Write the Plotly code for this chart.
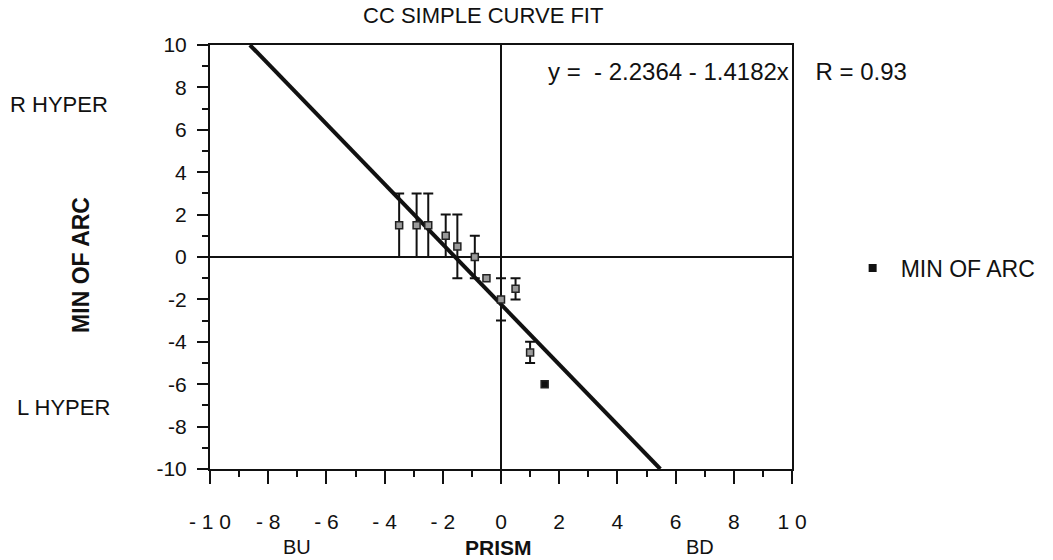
import plotly.graph_objects as go

# Measured points (prism vs. minutes of arc); None = no error bar recorded
prism = [-3.5, -2.9, -2.5, -1.9, -1.5, -0.9, -0.5, 0.0, 0.5, 1.0, 1.5]
min_of_arc = [1.5, 1.5, 1.5, 1.0, 0.5, 0.0, -1.0, -2.0, -1.5, -4.5, -6.0]
error = [1.5, 1.5, 1.5, 1.0, 1.5, 1.0, None, 1.0, 0.5, 0.5, None]

# Linear fit y = a + b x
fit_intercept = -2.2364
fit_slope = -1.4182
fit_r = 0.93

axis_min, axis_max = -10, 10
x_tickvals = list(range(-10, 11, 2))
x_ticktext = ["- 1 0", "- 8", "- 6", "- 4", "- 2", "0", "2", "4", "6", "8", "1 0"]
y_tickvals = list(range(-10, 11, 2))
y_ticktext = [str(v) for v in y_tickvals]

FONT = "Liberation Sans, Arial, Helvetica, sans-serif"
INK = "#111111"

# Fitted line clipped to the y range of the axes
x_top = (axis_max - fit_intercept) / fit_slope
x_bot = (axis_min - fit_intercept) / fit_slope
fit_x = [x_top, x_bot]
fit_y = [fit_intercept + fit_slope * v for v in fit_x]

# Split the points into those with and without an error bar
with_err = [i for i, e in enumerate(error) if e is not None]
without_err = [i for i, e in enumerate(error) if e is None]

fig = go.Figure()
fig.add_trace(go.Scatter(
    x=fit_x, y=fit_y, mode="lines",
    line=dict(color=INK, width=4),
    showlegend=False, hoverinfo="skip",
))
fig.add_trace(go.Scatter(
    x=[prism[i] for i in with_err], y=[min_of_arc[i] for i in with_err],
    mode="markers",
    marker=dict(symbol="square", size=7, color="#9a9a9a",
                line=dict(color="#222222", width=1.5)),
    error_y=dict(type="data", array=[error[i] for i in with_err], symmetric=True,
                 color=INK, thickness=2, width=5),
    showlegend=False,
))
fig.add_trace(go.Scatter(
    x=[prism[i] for i in without_err], y=[min_of_arc[i] for i in without_err],
    mode="markers",
    marker=dict(symbol="square", size=7,
                color=["#9a9a9a", INK],
                line=dict(color="#222222", width=1.5)),
    showlegend=False,
))
# Legend entry for the data series
fig.add_trace(go.Scatter(
    x=[None], y=[None], mode="markers", name="MIN OF ARC",
    marker=dict(symbol="square", size=8, color=INK),
))

axis_common = dict(
    range=[axis_min, axis_max],
    showgrid=False,
    showline=True, linecolor=INK, linewidth=2, mirror=True,
    zeroline=True, zerolinecolor=INK, zerolinewidth=2,
    ticks="outside", tickcolor=INK, tickwidth=2,
    tickfont=dict(family=FONT, size=21, color=INK),
    minor=dict(dtick=1, ticks="outside", ticklen=6, tickwidth=2, tickcolor=INK),
)

fig.update_xaxes(**axis_common, tickvals=x_tickvals, ticktext=x_ticktext,
                 ticklen=13, ticklabelstandoff=20)
fig.update_yaxes(**axis_common, tickvals=y_tickvals, ticktext=y_ticktext,
                 ticklen=11, ticklabelstandoff=6)

W, H = 1053, 560
L, R, T, B = 210, 257, 45, 91
pw, ph = W - L - R, H - T - B

annotations = [
    dict(text="CC SIMPLE CURVE FIT", x=485, y=15, size=22),
    dict(text=f"y =  - {abs(fit_intercept):.4f} - {abs(fit_slope):.4f}x    R = {fit_r:.2f}",
         x=548, y=71, size=24, anchor="left"),
    dict(text="BU", x=298, y=547, size=20),
    dict(text="<b>PRISM</b>", x=500, y=547, size=21),
    dict(text="BD", x=703, y=547, size=20),
    dict(text="R HYPER", x=58, y=105, size=22),
    dict(text="L HYPER", x=62, y=407, size=22),
    dict(text="<b>MIN OF ARC</b>", x=80, y=265, size=23, angle=-90),
]
ann = []
for a in annotations:
    ann.append(dict(
        text=a["text"], xref="paper", yref="paper",
        x=(a["x"] - L) / pw, y=(H - B - a["y"]) / ph,
        xanchor=a.get("anchor", "center"), yanchor="middle", showarrow=False,
        textangle=a.get("angle", 0),
        font=dict(family=FONT, size=a["size"], color=INK),
    ))

fig.update_layout(
    width=W, height=H,
    margin=dict(l=L, r=R, t=T, b=B),
    paper_bgcolor="white", plot_bgcolor="white",
    annotations=ann,
    legend=dict(x=(849 - L) / pw, y=(H - B - 268) / ph, xanchor="left", yanchor="middle",
                itemwidth=46,
                font=dict(family=FONT, size=23, color=INK),
                bgcolor="rgba(0,0,0,0)"),
)

fig.write_html("out.html")
